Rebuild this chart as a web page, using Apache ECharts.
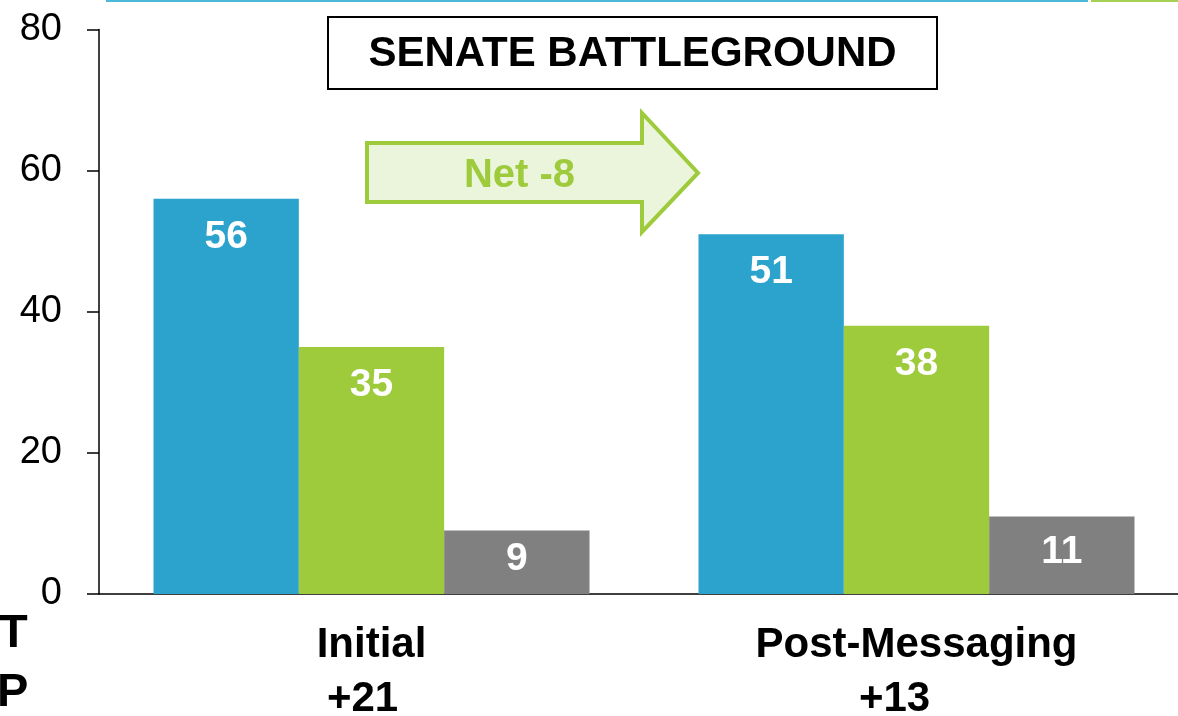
<!DOCTYPE html>
<html>
<head>
<meta charset="utf-8">
<script src="https://cdn.jsdelivr.net/npm/echarts@6/dist/echarts.min.js"></script>
<style>
html,body{margin:0;padding:0;background:#fff;}
#chart{width:1178px;height:716px;}
</style>
</head>
<body>
<div id="chart"></div>
<script>
var categories = ['Initial', 'Post-Messaging'];
var netLabels = ['+21', '+13'];
var yTicks = [0, 20, 40, 60, 80];
var seriesNames = ['Series 1', 'Series 2', 'Series 3'];
var blueValues = [56, 51];
var greenValues = [35, 38];
var grayValues = [9, 11];
var titleText = 'SENATE BATTLEGROUND';
var arrowText = 'Net -8';

var FONT = '"Liberation Sans", Arial, sans-serif';
var BLUE = '#2CA3CD', GREEN = '#9ECB3B', GRAY = '#808080';
var netPad = [18, 44];

var chart = echarts.init(document.getElementById('chart'), null, {renderer: 'canvas'});

var option = {
  animation: false,
  backgroundColor: '#ffffff',
  textStyle: {fontFamily: FONT},
  grid: {left: 99, top: 29.5, width: 1090, bottom: 122, containLabel: false, outerBoundsMode: 'none'},
  xAxis: {
    type: 'category',
    data: categories,
    axisLine: {show: true, lineStyle: {color: '#000', width: 1.5}},
    axisTick: {show: false},
    axisLabel: {
      margin: 24,
      interval: 0,
      formatter: function (v, i) {
        return '{a|' + v + '}\n{b' + i + '|' + netLabels[i] + '}';
      },
      rich: {
        a: {fontFamily: FONT, fontWeight: 'bold', fontSize: 42, color: '#000', lineHeight: 54},
        b0: {fontFamily: FONT, fontWeight: 'bold', fontSize: 42, color: '#000', lineHeight: 54, padding: [0, netPad[0], 0, 0]},
        b1: {fontFamily: FONT, fontWeight: 'bold', fontSize: 42, color: '#000', lineHeight: 54, padding: [0, netPad[1], 0, 0]}
      }
    }
  },
  yAxis: {
    type: 'value',
    min: yTicks[0],
    max: yTicks[yTicks.length - 1],
    interval: yTicks[1] - yTicks[0],
    axisLine: {show: true, lineStyle: {color: '#000', width: 1.5}},
    axisTick: {show: true, inside: false, length: 12, lineStyle: {color: '#000', width: 1.5}},
    splitLine: {show: false},
    axisLabel: {margin: 37, fontFamily: FONT, fontSize: 38, color: '#000'}
  },
  series: [
    {
      name: seriesNames[0], type: 'bar', data: blueValues, barGap: '0%', barCategoryGap: '20%',
      itemStyle: {color: BLUE},
      label: {show: true, position: 'insideTop', distance: 19, color: '#fff', fontFamily: FONT, fontWeight: 'bold', fontSize: 39}
    },
    {
      name: seriesNames[1], type: 'bar', data: greenValues, barGap: '0%', barCategoryGap: '20%',
      itemStyle: {color: GREEN},
      label: {show: true, position: 'insideTop', distance: 19, color: '#fff', fontFamily: FONT, fontWeight: 'bold', fontSize: 39}
    },
    {
      name: seriesNames[2], type: 'bar', data: grayValues, barGap: '0%', barCategoryGap: '20%',
      itemStyle: {color: GRAY},
      label: {show: true, position: 'inside', offset: [0, -3], color: '#fff', fontFamily: FONT, fontWeight: 'bold', fontSize: 39}
    }
  ],
  graphic: [
    {type: 'line', shape: {x1: 106, y1: 1, x2: 1088, y2: 1}, style: {stroke: '#4DB8DA', lineWidth: 2}},
    {type: 'line', shape: {x1: 1091, y1: 1, x2: 1178, y2: 1}, style: {stroke: '#A6D054', lineWidth: 2}},
    {type: 'rect', shape: {x: 328, y: 17, width: 609, height: 72}, style: {fill: '#fff', stroke: '#000', lineWidth: 2}, z: 10},
    {type: 'text', x: 632.5, y: 54, style: {text: titleText, fontFamily: FONT, fontWeight: 'bold', fontSize: 42, fill: '#000', textAlign: 'center', textVerticalAlign: 'middle'}, z: 11},
    {type: 'polygon', shape: {points: [[367, 143], [642, 143], [642, 113], [698, 173], [642, 232], [642, 202], [367, 202]]},
      style: {fill: '#EBF5DC', stroke: GREEN, lineWidth: 4, lineJoin: 'miter'}, z: 10},
    {type: 'text', x: 519.5, y: 176, style: {text: arrowText, fontFamily: FONT, fontWeight: 'bold', fontSize: 40, fill: GREEN, textAlign: 'center', textVerticalAlign: 'middle'}, z: 11},
    {type: 'text', x: -1, y: 634, style: {text: 'T', fontFamily: FONT, fontWeight: 'bold', fontSize: 47, fill: '#000', textAlign: 'left', textVerticalAlign: 'middle'}},
    {type: 'text', x: -3, y: 693, style: {text: 'P', fontFamily: FONT, fontWeight: 'bold', fontSize: 47, fill: '#000', textAlign: 'left', textVerticalAlign: 'middle'}}
  ]
};
chart.setOption(option);
</script>
</body>
</html>
